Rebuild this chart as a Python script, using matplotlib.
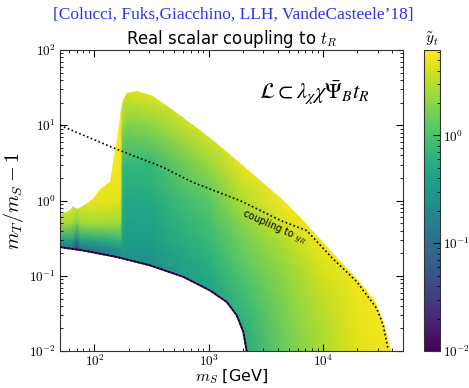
import numpy as np
import matplotlib
matplotlib.use('Agg')
import matplotlib.pyplot as plt
from matplotlib.colors import LogNorm
from matplotlib.patches import Polygon
from matplotlib.ticker import FuncFormatter

plt.rcParams['mathtext.fontset'] = 'cm'

# grid of coupling values (rows: m_T/m_S-1, cols: m_S)
MS_GRID = [50, 64, 70, 76, 100, 170, 176, 192, 300, 1000, 2000, 5000, 1e4, 2e4, 5e4]
RATIO_GRID = [0.01, 0.02, 0.05, 0.1, 0.15, 0.22, 0.3, 0.5, 1, 3, 10, 30]
YT_GRID = [
    [0.13, 0.13, 0.13, 0.13, 0.13, 0.18, 0.25, 0.25, 0.25, 0.29, 0.48, 1.53, 2.73, 4.57, 8.0],
    [0.13, 0.13, 0.13, 0.13, 0.13, 0.18, 0.25, 0.25, 0.25, 0.30, 0.58, 1.74, 2.91, 4.88, 8.0],
    [0.13, 0.13, 0.13, 0.13, 0.13, 0.18, 0.25, 0.25, 0.25, 0.37, 0.80, 1.98, 3.31, 5.20, 8.0],
    [0.13, 0.13, 0.13, 0.13, 0.13, 0.18, 0.25, 0.25, 0.25, 0.48, 1.04, 2.25, 4.02, 5.55, 8.0],
    [0.13, 0.13, 0.13, 0.13, 0.15, 0.22, 0.25, 0.25, 0.25, 0.58, 1.26, 2.56, 4.57, 5.92, 8.0],
    [0.095, 0.09, 0.03, 0.10, 0.13, 0.25, 0.35, 0.29, 0.30, 0.66, 1.43, 2.91, 5.20, 8.0, 8.0],
    [0.42, 0.40, 0.12, 0.45, 0.48, 0.70, 0.42, 0.33, 0.35, 0.75, 1.53, 3.31, 5.55, 8.0, 8.0],
    [2.56, 2.40, 1.60, 2.40, 2.56, 2.40, 0.48, 0.39, 0.39, 0.91, 1.98, 4.57, 8.0, 8.0, 8.0],
    [5.20, 5.20, 5.00, 5.00, 5.20, 4.57, 0.58, 0.48, 0.48, 1.18, 2.91, 8.0, 8.0, 8.0, 8.0],
    [8.0, 8.0, 8.0, 8.0, 8.0, 5.55, 0.80, 0.70, 0.70, 2.25, 5.20, 8.0, 8.0, 8.0, 8.0],
    [8.0, 8.0, 8.0, 8.0, 8.0, 8.0, 2.25, 1.74, 1.98, 5.20, 8.0, 8.0, 8.0, 8.0, 8.0],
    [8.0, 8.0, 8.0, 8.0, 8.0, 8.0, 5.20, 4.57, 5.20, 8.0, 8.0, 8.0, 8.0, 8.0, 8.0],
]

# edge of the allowed region
UPPER_MS = [50, 58, 62, 65, 68, 72, 97, 112, 137, 146, 151, 157, 167, 177, 192, 235,
            326, 525, 839, 1256, 1879, 4355, 6300, 9420, 14100, 21100, 28500,
            33500, 37000, 39400]
UPPER_R = [0.66, 0.70, 0.78, 0.86, 0.80, 0.78, 1.05, 1.42, 1.75, 3.2, 4.8, 6.5, 13.1,
           21.9, 27.0, 28.2, 24.2, 14.7, 8.8, 5.3, 3.2, 1.05, 0.605, 0.31, 0.159,
           0.084, 0.047, 0.0256, 0.0149, 0.01]
LOWER_MS = [50, 80, 157, 306, 600, 1026, 1437, 1757, 2009, 2147]
LOWER_R = [0.241, 0.217, 0.178, 0.138, 0.097, 0.064, 0.045, 0.030, 0.018, 0.01]

# "coupling to y_R" contour
DOT_MS = [50, 157, 375, 733, 1879, 4355, 7200, 12200, 19700, 29500, 33700, 37200]
DOT_R = [10.0, 4.8, 2.88, 1.74, 1.0, 0.536, 0.40, 0.169, 0.084, 0.037, 0.022, 0.0104]


def pow10(v, pos):
    return r'$10^{%d}$' % round(np.log10(v))


fig = plt.figure(figsize=(4.69, 3.88), dpi=100)
ax = fig.add_axes([0.128, 0.095, 0.731, 0.776])
cax = fig.add_axes([0.904, 0.095, 0.034, 0.776])

X, Y = np.meshgrid(MS_GRID, RATIO_GRID)
norm = LogNorm(vmin=1e-2, vmax=6.2)
mesh = ax.pcolormesh(X, Y, np.array(YT_GRID), cmap='viridis', norm=norm,
                     shading='gouraud', zorder=1)

verts = list(zip(UPPER_MS, UPPER_R)) + list(zip(LOWER_MS[::-1], LOWER_R[::-1]))
region = Polygon(verts, closed=True, transform=ax.transData)
mesh.set_clip_path(region)

ax.plot(LOWER_MS, LOWER_R, color='#3b0f5a', lw=1.4, zorder=2)
ax.plot(LOWER_MS, LOWER_R, color='k', lw=1.1, ls=(0, (1, 1.6)), zorder=3)
ax.plot(DOT_MS, DOT_R, color='k', lw=1.2, ls=(0, (1, 1.5)), zorder=3)

ax.set_xscale('log')
ax.set_yscale('log')
ax.set_xlim(50, 5e4)
ax.set_ylim(1e-2, 1e2)
ax.xaxis.set_major_formatter(FuncFormatter(pow10))
ax.yaxis.set_major_formatter(FuncFormatter(pow10))
ax.tick_params(which='both', direction='in', top=True, right=True)
ax.tick_params(which='major', length=5, labelsize=9.5, pad=3)
ax.tick_params(axis='x', which='major', pad=2)
ax.tick_params(which='minor', length=2.5)
for s in ax.spines.values():
    s.set_color('#333333')

ax.text(3800, 0.447, r'coupling to $y_R$', fontsize=7, rotation=-24,
        ha='center', va='center', rotation_mode='anchor')
ax.text(0.74, 0.858, r'$\mathcal{L} \subset \lambda_\chi \chi \bar{\Psi}_B t_R$',
        transform=ax.transAxes, fontsize=16, ha='center', va='center',
        math_fontfamily='stix')

ax.set_title(r'Real scalar coupling to $t_R$', fontsize=12, pad=4)
ax.set_xlabel(r'$m_S$ [GeV]', fontsize=11.5)
ax.xaxis.set_label_coords(0.5, -0.056)
ax.set_ylabel(r'$m_T/m_S - 1$', fontsize=14.5, labelpad=2)

fig.text(0.498, 1 - 15 / 388, '[Colucci, Fuks,Giacchino, LLH, VandeCasteele\u201918]',
         ha='center', va='center', color='#3030f0', family='Liberation Serif',
         fontsize=12.5)

cb = fig.colorbar(mesh, cax=cax)
cb.ax.yaxis.set_major_formatter(FuncFormatter(pow10))
cb.ax.tick_params(which='both', direction='in', labelsize=9.5, pad=2)
cb.ax.tick_params(which='major', length=5)
cb.ax.tick_params(which='minor', length=2.5)
cb.outline.set_edgecolor('#333333')
cax.set_title(r'$\tilde{y}_t$', fontsize=11, pad=5)

fig.savefig('out.png', dpi=100)
